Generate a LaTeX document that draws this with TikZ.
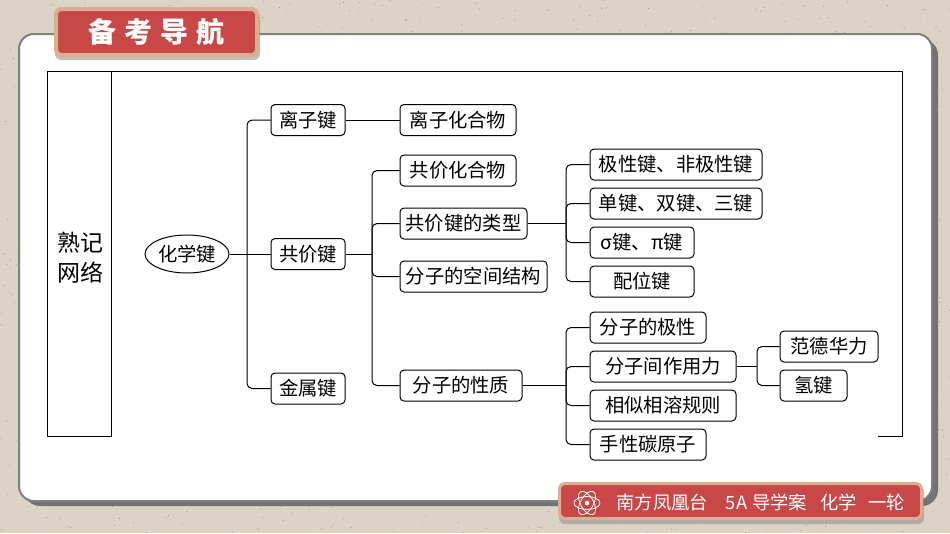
\documentclass[tikz,border=0pt]{standalone}
\usepackage{fontspec}
\setmainfont{Noto Sans CJK SC}
\usetikzlibrary{shapes.geometric}
\definecolor{paper}{HTML}{DBD4C6}
\definecolor{bannerred}{HTML}{C84747}
\definecolor{bannerrim}{HTML}{DDAE8E}

\begin{document}
\begin{tikzpicture}[x=1pt,y=-1pt,thick]
\tikzset{BoxStyle/.style = {draw,rounded corners=4pt,line width=1pt,
                            minimum height=31pt,inner sep=0pt,
                            font=\fontsize{19.3}{23}\selectfont},
         RootStyle/.style = {draw,ellipse,line width=1pt,inner sep=0pt,
                             minimum width=84pt,minimum height=38pt,
                             font=\fontsize{19.3}{23}\selectfont},
         LinkStyle/.style = {line width=1pt,rounded corners=5pt},
         FrameStyle/.style = {line width=0.8pt},
         BannerStyle/.style = {draw=bannerrim,fill=bannerred,
                               rounded corners=5pt},
         BannerShade/.style = {fill=black!45,opacity=0.55,rounded corners=6pt}}
% page and card
\useasboundingbox (0,0) rectangle (950,533);
\path[fill=paper] (0,0) rectangle (950,533);
\pgfmathsetseed{7}
\foreach \i in {1,...,1400}
  \fill[black!35!paper] (950*rnd,533*rnd) circle [radius=0.5pt];
\foreach \i in {1,...,1400}
  \fill[white!45!paper] (950*rnd,533*rnd) circle [radius=0.6pt];
\path[fill=black!55,rounded corners=16pt] (24,39) rectangle (938,506);
\path[fill=white,draw=black!50,line width=2pt,rounded corners=15pt] (19,34) rectangle (932,501);
% frame
\coordinate (fa) at (47,71);   \coordinate (fb) at (902,71);
\coordinate (fc) at (902,436); \coordinate (fd) at (878,436);
\coordinate (fe) at (47,436);  \coordinate (ff) at (111,436);
\coordinate (fg) at (111,71);
\draw[FrameStyle] (fd) -- (fc) -- (fb) -- (fa) -- (fe) -- (ff) -- (fg);
\node (side) at (80,258) [align=center,inner sep=0pt,
      font=\fontsize{23}{30}\selectfont] {熟记\\网络};
% title banner
\path[BannerShade] (55,12) rectangle (260,60);
\node (title) [BannerStyle,line width=4pt,minimum width=201pt,minimum height=46pt] at (156.5,32) {};
\node (titletext) at (title) [text=white,font=\fontsize{28}{30}\selectfont\bfseries]
      {备\hskip8pt 考\hskip8pt 导\hskip8pt 航};
% footer banner
\path[BannerShade] (559,486) rectangle (924,524);
\node (foot) [BannerStyle,line width=3pt,minimum width=362pt,minimum height=35pt] at (740.5,501) {};
\node (foottext) [anchor=west,inner sep=0pt,text=white,
      font=\fontsize{18.3}{20}\selectfont] at (616,502.5)
      {南方凤凰台\hskip 18pt 5A\hskip 5pt 导学案\hskip 13pt 化学\hskip 12pt 一轮};
\node (atom) at (587,503) [circle,fill=white,inner sep=0pt,minimum size=4.5pt] {};
\foreach \ang in {0,60,120}
  \draw[white,line width=0.8pt,rotate around={\ang:(atom)}] (atom) ellipse [x radius=13pt,y radius=6.5pt];
% nodes
\node (root) [RootStyle] at (187,254) {化学键};
\node (ion) [BoxStyle,minimum width=74pt] at (308,120) {离子键};
\node (cov) [BoxStyle,minimum width=74pt] at (308,254) {共价键};
\node (met) [BoxStyle,minimum width=74pt] at (308,388.5) {金属键};
\node (ioncomp) [BoxStyle,minimum width=116pt] at (458,120) {离子化合物};
\node (covcomp) [BoxStyle,minimum width=116pt] at (458,170.5) {共价化合物};
\node (covtype) [BoxStyle,minimum width=127pt] at (463.5,223.5) {共价键的类型};
\node (shape) [BoxStyle,minimum width=147pt] at (473.5,276.5) {分子的空间结构};
\node (prop) [BoxStyle,minimum width=122pt] at (461,385.5) {分子的性质};
\node (polar) [BoxStyle,minimum width=172pt] at (676,164.5) {极性键、非极性键};
\node (single) [BoxStyle,minimum width=172pt] at (676,203.5) {单键、双键、三键};
\node (sigma) [BoxStyle,minimum width=104pt] at (642,242.5) {σ键、π键};
\node (coord) [BoxStyle,minimum width=104pt] at (642,281.5) {配位键};
\node (molpol) [BoxStyle,minimum width=116pt] at (648,327.5) {分子的极性};
\node (force) [BoxStyle,minimum width=146pt] at (663,366.5) {分子间作用力};
\node (solv) [BoxStyle,minimum width=146pt] at (663,405.5) {相似相溶规则};
\node (chiral) [BoxStyle,minimum width=116pt] at (648,444.5) {手性碳原子};
\node (vdw) [BoxStyle,minimum width=98pt] at (829,346.5) {范德华力};
\node (hb) [BoxStyle,minimum width=67pt] at (813.5,385.5) {氢键};
% junctions
\coordinate (ja) at (247,254);
\coordinate (jb) at (372,254);
\coordinate (jc) at (566,223.5);
\coordinate (jd) at (566,385.5);
\coordinate (je) at (757,366.5);
% edges
\draw[LinkStyle] (root) -- (ja);
\draw[LinkStyle] (cov) -- (jb);
\draw[LinkStyle] (covtype) -- (jc);
\draw[LinkStyle] (prop) -- (jd);
\draw[LinkStyle] (force) -- (je);
\draw[LinkStyle] (ion) -- (ioncomp);
\draw[LinkStyle] (ja) -- (cov);
\draw[LinkStyle] (ja) |- (ion);
\draw[LinkStyle] (ja) |- (met);
\foreach \kid in {covcomp,covtype,shape,prop}
  \draw[LinkStyle] (jb) |- (\kid);
\foreach \kid in {polar,single,sigma,coord}
  \draw[LinkStyle] (jc) |- (\kid);
\foreach \kid in {molpol,force,solv,chiral}
  \draw[LinkStyle] (jd) |- (\kid);
\foreach \kid in {vdw,hb}
  \draw[LinkStyle] (je) |- (\kid);
\end{tikzpicture}
\end{document}
